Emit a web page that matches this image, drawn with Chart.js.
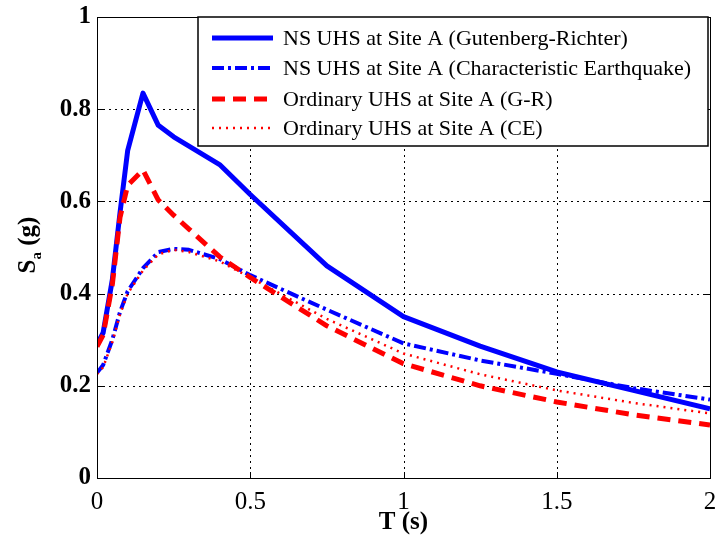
<!DOCTYPE html>
<html>
<head>
<meta charset="utf-8">
<script src="https://cdn.jsdelivr.net/npm/chart.js@4.4.0/dist/chart.umd.min.js"></script>
<style>
  html, body { margin: 0; padding: 0; background: #fff; }
  #wrap { width: 718px; height: 539px; position: relative; }
</style>
</head>
<body>
<div id="wrap"><canvas id="c" width="718" height="539"></canvas></div>
<script>
// ---- Data ----
const periods = [0, 0.02, 0.05, 0.075, 0.1, 0.15, 0.2, 0.25, 0.3, 0.4, 0.5, 0.75, 1.0, 1.25, 1.5, 1.75, 2.0];
const nsGR      = [0.29, 0.315, 0.43, 0.575, 0.71, 0.835, 0.765, 0.74, 0.72, 0.68, 0.615, 0.46, 0.35, 0.286, 0.23, 0.19, 0.15];
const nsCE      = [0.228, 0.245, 0.30, 0.36, 0.405, 0.455, 0.49, 0.497, 0.495, 0.475, 0.44, 0.365, 0.292, 0.255, 0.226, 0.195, 0.17];
const ordGR     = [0.285, 0.31, 0.42, 0.565, 0.635, 0.668, 0.603, 0.57, 0.54, 0.48, 0.435, 0.33, 0.248, 0.20, 0.165, 0.137, 0.115];
const ordCE     = [0.225, 0.24, 0.295, 0.355, 0.40, 0.45, 0.485, 0.495, 0.49, 0.47, 0.435, 0.345, 0.27, 0.225, 0.19, 0.163, 0.14];
const seriesLabels = [
  'NS UHS at Site A (Gutenberg-Richter)',
  'NS UHS at Site A (Characteristic Earthquake)',
  'Ordinary UHS at Site A (G-R)',
  'Ordinary UHS at Site A (CE)'
];
const xTickLabels = ['0', '0.5', '1', '1.5', '2'];
const yTickLabels = ['0', '0.2', '0.4', '0.6', '0.8', '1'];
const xTitle = 'T (s)';
const yTitleMain = 'S';
const yTitleSub = 'a';
const yTitleRest = ' (g)';

const toXY = arr => arr.map((v, i) => ({ x: periods[i], y: v }));

const SERIF = '"Liberation Serif", "Times New Roman", serif';

const frameAndGrid = {
  id: 'frameAndGrid',
  beforeDatasetsDraw(chart) {
    const { ctx, chartArea: a, scales: { x, y } } = chart;
    ctx.save();
    ctx.strokeStyle = '#000';
    ctx.lineWidth = 1;
    ctx.setLineDash([2, 4]);
    x.ticks.forEach(t => {
      if (t.value <= x.min || t.value >= x.max) return;
      const px = Math.round(x.getPixelForValue(t.value)) + 0.5;
      ctx.beginPath(); ctx.moveTo(px, a.top); ctx.lineTo(px, a.bottom); ctx.stroke();
    });
    y.ticks.forEach(t => {
      if (t.value <= y.min || t.value >= y.max) return;
      const py = Math.round(y.getPixelForValue(t.value)) + 0.5;
      ctx.beginPath(); ctx.moveTo(a.left, py); ctx.lineTo(a.right, py); ctx.stroke();
    });
    ctx.restore();
  },
  afterDatasetsDraw(chart) {
    const { ctx, chartArea: a, scales: { x, y } } = chart;
    ctx.save();
    ctx.setLineDash([]);
    ctx.strokeStyle = '#000';
    ctx.lineWidth = 1;
    ctx.strokeRect(Math.round(a.left) + 0.5, Math.round(a.top) + 0.5,
                   Math.round(a.right - a.left), Math.round(a.bottom - a.top));
    const tl = 6;
    x.ticks.forEach(t => {
      const px = Math.round(x.getPixelForValue(t.value)) + 0.5;
      ctx.beginPath();
      ctx.moveTo(px, a.bottom); ctx.lineTo(px, a.bottom - tl);
      ctx.moveTo(px, a.top); ctx.lineTo(px, a.top + tl);
      ctx.stroke();
    });
    y.ticks.forEach(t => {
      const py = Math.round(y.getPixelForValue(t.value)) + 0.5;
      ctx.beginPath();
      ctx.moveTo(a.left, py); ctx.lineTo(a.left + tl, py);
      ctx.moveTo(a.right, py); ctx.lineTo(a.right - tl, py);
      ctx.stroke();
    });
    ctx.restore();
  },
  afterDraw(chart) {
    const { ctx, scales: { x } } = chart;
    ctx.save();
    ctx.fillStyle = '#000';
    ctx.font = 'bold 25px ' + SERIF;
    ctx.textAlign = 'center';
    ctx.textBaseline = 'middle';
    ctx.fillText(xTitle, x.getPixelForValue(1), 523);
    ctx.translate(27, 245);
    ctx.rotate(-Math.PI / 2);
    ctx.textBaseline = 'alphabetic';
    ctx.textAlign = 'left';
    const mainFont = 'bold 25px ' + SERIF;
    const subFont = 'bold 15px ' + SERIF;
    ctx.font = mainFont; const wS = ctx.measureText(yTitleMain).width;
    ctx.font = subFont; const wA = ctx.measureText(yTitleSub).width;
    ctx.font = mainFont; const wR = ctx.measureText(yTitleRest).width;
    const total = wS + wA + wR;
    let cx = -total / 2;
    const base = 8;
    ctx.font = mainFont; ctx.fillText(yTitleMain, cx, base); cx += wS;
    ctx.font = subFont; ctx.fillText(yTitleSub, cx, base + 6); cx += wA;
    ctx.font = mainFont; ctx.fillText(yTitleRest, cx, base);
    ctx.restore();

    // legend box
    const ds = chart.data.datasets;
    const bx = 198, by = 17, bw = 510, bh = 129;
    ctx.save();
    ctx.fillStyle = '#fff';
    ctx.fillRect(bx, by, bw, bh);
    ctx.strokeStyle = '#000';
    ctx.lineWidth = 1.5;
    ctx.strokeRect(bx, by, bw, bh);
    const rows = [38, 68, 99, 128];
    ds.forEach((d, i) => {
      const ly = rows[i];
      ctx.save();
      ctx.strokeStyle = d.borderColor;
      ctx.lineWidth = d.borderWidth;
      ctx.setLineDash(d.borderDash || []);
      ctx.lineCap = 'butt';
      ctx.beginPath(); ctx.moveTo(212, ly); ctx.lineTo(273, ly); ctx.stroke();
      ctx.restore();
      ctx.fillStyle = '#000';
      ctx.font = '22px ' + SERIF;
      ctx.textAlign = 'left';
      ctx.textBaseline = 'middle';
      ctx.fillText(d.label, 283, ly + 1);
    });
    ctx.restore();
  }
};

new Chart(document.getElementById('c'), {
  type: 'line',
  data: {
    datasets: [
      { label: seriesLabels[0], data: toXY(nsGR), borderColor: '#0000ff', borderWidth: 5, borderDash: [], order: 4 },
      { label: seriesLabels[1], data: toXY(nsCE), borderColor: '#0000ff', borderWidth: 4, borderDash: [12, 4, 3, 4], order: 3 },
      { label: seriesLabels[2], data: toXY(ordGR), borderColor: '#ff0000', borderWidth: 5, borderDash: [13, 8], order: 2 },
      { label: seriesLabels[3], data: toXY(ordCE), borderColor: '#ff0000', borderWidth: 2.5, borderDash: [2, 5], order: 1 }
    ].map(d => Object.assign({ fill: false, pointRadius: 0, tension: 0, borderJoinStyle: 'round' }, d))
  },
  options: {
    responsive: false,
    animation: false,
    events: [],
    layout: { padding: { left: 0, right: 8, top: 17, bottom: 0 } },
    plugins: { legend: { display: false }, tooltip: { enabled: false } },
    scales: {
      x: {
        type: 'linear', min: 0, max: 2,
        grid: { display: false, drawTicks: false },
        border: { display: false },
        afterBuildTicks(s) { s.ticks = xTickLabels.map(v => ({ value: parseFloat(v) })); },
        afterFit(s) { s.height = 61; s.paddingLeft = 0; s.paddingRight = 0; },
        ticks: {
          padding: 9, color: '#000', maxRotation: 0, autoSkip: false,
          font: { family: SERIF, size: 25 },
          callback: (v, i) => xTickLabels[i]
        }
      },
      y: {
        type: 'linear', min: 0, max: 1,
        grid: { display: false, drawTicks: false },
        border: { display: false },
        afterBuildTicks(s) { s.ticks = yTickLabels.map(v => ({ value: parseFloat(v) })); },
        afterFit(s) { s.width = 97; s.paddingTop = 0; s.paddingBottom = 0; },
        ticks: {
          padding: 6, color: '#000', autoSkip: false,
          font: { family: SERIF, size: 25, weight: 'bold' },
          callback: (v, i) => yTickLabels[i]
        }
      }
    }
  },
  plugins: [frameAndGrid]
});
</script>
</body>
</html>
